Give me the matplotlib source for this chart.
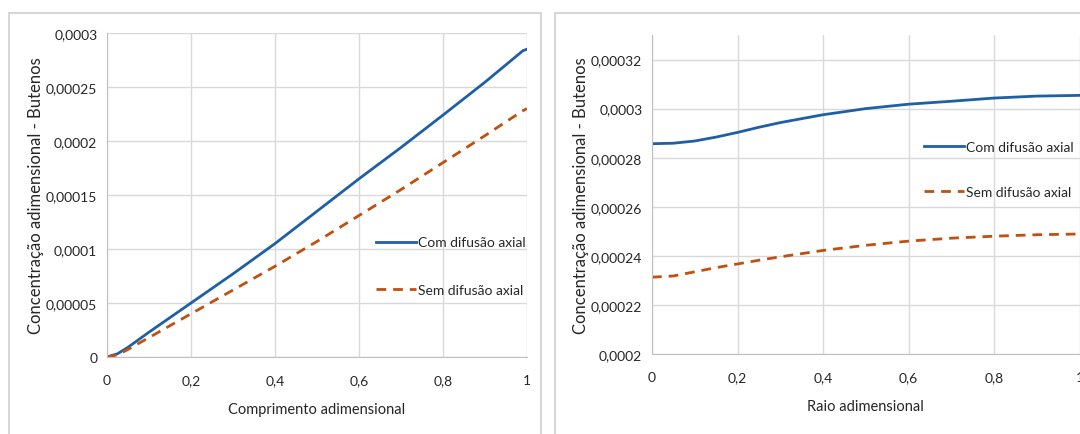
import matplotlib
matplotlib.use("Agg")
import matplotlib.pyplot as plt
from matplotlib.patches import Rectangle

plt.rcParams['font.family'] = ['Lato', 'DejaVu Sans']

# Left chart: concentration along the reactor length
x_len = [0, 0.025, 0.05, 0.1, 0.2, 0.3, 0.4, 0.5, 0.6, 0.7, 0.8, 0.9, 0.99, 1.0]
com_len = [0, 0.000003, 0.000009, 0.000023, 0.00005, 0.000077, 0.000105, 0.000135,
           0.000165, 0.000194, 0.000224, 0.0002545, 0.0002835, 0.000285]
sem_len = [0, 0.000002, 0.000007, 0.000018, 0.00004, 0.000062, 0.000084, 0.000107,
           0.000131, 0.000155, 0.00018, 0.000205, 0.000228, 0.00023]

# Right chart: concentration along the radius
x_raio = [0, 0.05, 0.1, 0.15, 0.2, 0.25, 0.3, 0.4, 0.5, 0.6, 0.7, 0.8, 0.9, 1.0]
com_raio = [0.0002857, 0.0002859, 0.0002868, 0.0002884, 0.0002903, 0.0002924, 0.0002943,
            0.0002975, 0.0003, 0.0003018, 0.000303, 0.0003043, 0.0003051, 0.0003054]
sem_raio = [0.0002313, 0.0002318, 0.0002335, 0.0002352, 0.0002367, 0.0002382, 0.0002396,
            0.0002422, 0.0002443, 0.000246, 0.0002472, 0.000248, 0.0002486, 0.0002489]

x_ticks = [0, 0.2, 0.4, 0.6, 0.8, 1]
x_labels = ["0", "0,2", "0,4", "0,6", "0,8", "1"]
y_ticks_len = [0, 0.00005, 0.0001, 0.00015, 0.0002, 0.00025, 0.0003]
y_labels_len = ["0", "0,00005", "0,0001", "0,00015", "0,0002", "0,00025", "0,0003"]
y_ticks_raio = [0.0002, 0.00022, 0.00024, 0.00026, 0.00028, 0.0003, 0.00032]
y_labels_raio = ["0,0002", "0,00022", "0,00024", "0,00026", "0,00028", "0,0003", "0,00032"]

blue = "#1f5fa6"
orange = "#c0500f"
grid_c = "#d9d9d9"
txt_c = "#262626"

fig = plt.figure(figsize=(10.8, 4.35), dpi=100)

# chart borders like the Excel chart areas
fig.add_artist(Rectangle((9 / 1080, -0.01), 532 / 1080, 1 - 14 / 435 + 0.01,
                         transform=fig.transFigure, fill=False, ec="#d0d0d0", lw=1.2))
fig.add_artist(Rectangle((555 / 1080, -0.01), 0.6, 1 - 14 / 435 + 0.01,
                         transform=fig.transFigure, fill=False, ec="#d0d0d0", lw=1.2))

ax1 = fig.add_axes([107 / 1080, 1 - 358 / 435, 420 / 1080, 324 / 435])
ax2 = fig.add_axes([652 / 1080, 1 - 355 / 435, 427.5 / 1080, 319 / 435])


def style_axes(ax, yticks, ylabels, ylim, xlabel):
    ax.set_xlim(0, 1)
    ax.set_ylim(*ylim)
    ax.set_xticks(x_ticks)
    ax.set_xticklabels(x_labels)
    ax.set_yticks(yticks)
    ax.set_yticklabels(ylabels)
    ax.grid(True, color=grid_c, lw=1)
    ax.set_axisbelow(True)
    for s in ["top", "right"]:
        ax.spines[s].set_visible(False)
    ax.spines["left"].set_color("#bfbfbf")
    ax.spines["bottom"].set_color("#bfbfbf")
    ax.tick_params(length=0, labelsize=10, colors=txt_c)
    ax.tick_params(axis="x", pad=12)
    ax.tick_params(axis="y", pad=7)
    ax.set_xlabel(xlabel, fontsize=10.5, color=txt_c, labelpad=12)
    ax.set_ylabel("Concentração adimensional - Butenos", fontsize=12, color=txt_c)


leg_kw = dict(loc="upper left", frameon=False, fontsize=10, handlelength=2.9,
              handletextpad=0.15, borderpad=0, borderaxespad=0, labelcolor=txt_c)

ax1.plot(x_len, com_len, color=blue, lw=2, label="Com difusão axial")
ax1.plot(x_len, sem_len, color=orange, lw=2, ls=(0, (3.5, 2.5)), label="Sem difusão axial")
style_axes(ax1, y_ticks_len, y_labels_len, (0, 0.0003), "Comprimento adimensional")
ax1.yaxis.set_label_coords(-0.15, 0.5)
ax1.legend(bbox_to_anchor=(0.64, 0.372), labelspacing=2.55, **leg_kw)

ax2.plot(x_raio, com_raio, color=blue, lw=2, label="Com difusão axial")
ax2.plot(x_raio, sem_raio, color=orange, lw=2, ls=(0, (3.5, 2.5)), label="Sem difusão axial")
style_axes(ax2, y_ticks_raio, y_labels_raio, (0.0002, 0.00033), "Raio adimensional")
ax2.yaxis.set_label_coords(-0.147, 0.5)
ax2.legend(bbox_to_anchor=(0.636, 0.668), labelspacing=2.35, **leg_kw)

fig.savefig("out.png", dpi=100)
